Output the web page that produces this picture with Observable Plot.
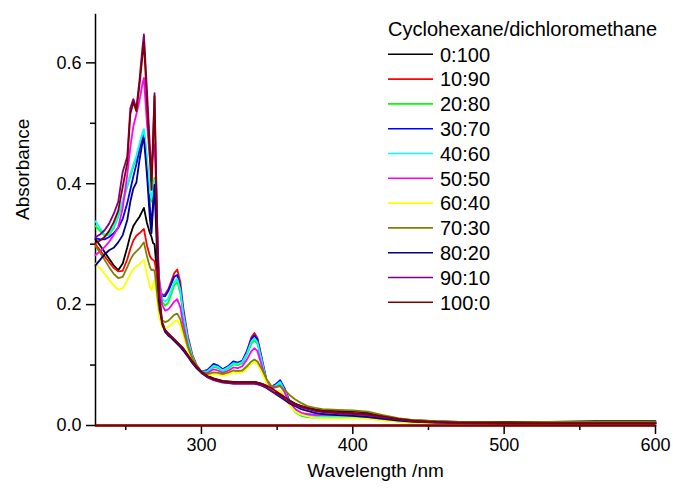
<!DOCTYPE html>
<html>
<head>
<meta charset="utf-8">
<script src="https://cdn.jsdelivr.net/npm/d3@7"></script>
<script src="https://cdn.jsdelivr.net/npm/@observablehq/plot@0.6"></script>
<style>
  html, body { margin: 0; padding: 0; background: #fff; }
  #chart { width: 673px; height: 493px; }
</style>
</head>
<body>
<div id="chart"></div>
<script>
// Wavelength grid (nm)
const wavelengths = [230,233,236,239,242,245,248,251,253,255,257,259,261,262,264,266,267,268,269,270,271,272,274,276,278,280,282,284,286,288,291,294,297,300,304,308,311,314,318,321,324,327,330,333,335,337,340,343,346,349,352,355,358,362,366,370,375,380,390,400,410,420,430,440,455,470,500,530,560,600];

// Series labels (cyclohexane:dichloromethane)
const seriesNames = ["0:100","10:90","20:80","30:70","40:60","50:50","60:40","70:30","80:20","90:10","100:0"];

// Absorbance values, one array per series
const abs_0_100 = [0.308,0.298,0.287,0.276,0.265,0.257,0.268,0.295,0.315,0.33,0.338,0.345,0.355,0.36,0.335,0.318,0.312,0.302,0.3,0.27,0.235,0.2,0.17,0.157,0.151,0.146,0.141,0.136,0.131,0.126,0.116,0.105,0.096,0.088,0.082,0.078,0.076,0.074,0.073,0.072,0.072,0.072,0.072,0.072,0.072,0.071,0.069,0.065,0.06,0.055,0.051,0.046,0.041,0.036,0.032,0.029,0.027,0.025,0.024,0.024,0.021,0.015,0.011,0.009,0.007,0.006,0.006,0.006,0.007,0.007];
const abs_10_90 = [0.3,0.29,0.28,0.27,0.261,0.255,0.256,0.275,0.292,0.306,0.314,0.318,0.323,0.325,0.298,0.28,0.276,0.274,0.272,0.258,0.24,0.226,0.216,0.217,0.225,0.238,0.252,0.258,0.238,0.195,0.148,0.117,0.099,0.089,0.091,0.101,0.098,0.092,0.098,0.105,0.103,0.107,0.123,0.146,0.153,0.145,0.11,0.075,0.064,0.067,0.073,0.06,0.041,0.026,0.02,0.018,0.017,0.017,0.017,0.016,0.014,0.011,0.008,0.006,0.005,0.004,0.004,0.004,0.004,0.004];
const abs_20_80 = [0.33,0.322,0.314,0.316,0.326,0.345,0.37,0.395,0.412,0.428,0.443,0.462,0.482,0.49,0.44,0.38,0.37,0.395,0.41,0.36,0.29,0.24,0.205,0.198,0.203,0.217,0.232,0.238,0.22,0.182,0.14,0.113,0.097,0.088,0.089,0.097,0.095,0.09,0.095,0.101,0.1,0.103,0.117,0.135,0.141,0.135,0.103,0.072,0.061,0.064,0.07,0.056,0.037,0.022,0.016,0.014,0.013,0.013,0.013,0.013,0.012,0.009,0.007,0.005,0.004,0.004,0.004,0.004,0.004,0.004];
const abs_30_70 = [0.31,0.308,0.308,0.312,0.318,0.327,0.342,0.368,0.39,0.412,0.432,0.455,0.474,0.48,0.43,0.36,0.33,0.365,0.4,0.35,0.28,0.236,0.214,0.214,0.222,0.234,0.246,0.249,0.229,0.187,0.143,0.114,0.098,0.089,0.092,0.102,0.099,0.093,0.099,0.106,0.104,0.107,0.122,0.143,0.149,0.142,0.108,0.074,0.064,0.068,0.075,0.061,0.041,0.025,0.018,0.016,0.015,0.015,0.015,0.014,0.013,0.01,0.007,0.005,0.004,0.004,0.004,0.004,0.004,0.004];
const abs_40_60 = [0.338,0.326,0.316,0.318,0.329,0.348,0.373,0.398,0.416,0.432,0.446,0.465,0.484,0.49,0.443,0.385,0.375,0.39,0.405,0.365,0.295,0.245,0.21,0.205,0.21,0.223,0.237,0.243,0.225,0.185,0.142,0.114,0.098,0.089,0.09,0.099,0.097,0.091,0.097,0.103,0.102,0.105,0.119,0.139,0.144,0.138,0.106,0.073,0.063,0.066,0.072,0.058,0.039,0.024,0.018,0.016,0.015,0.015,0.015,0.014,0.013,0.01,0.007,0.005,0.004,0.004,0.004,0.004,0.004,0.004];
const abs_50_50 = [0.282,0.288,0.295,0.304,0.315,0.328,0.36,0.415,0.46,0.495,0.515,0.537,0.565,0.575,0.5,0.44,0.43,0.45,0.465,0.4,0.31,0.245,0.2,0.19,0.192,0.198,0.205,0.209,0.196,0.167,0.132,0.11,0.097,0.088,0.087,0.093,0.091,0.087,0.091,0.096,0.095,0.098,0.109,0.123,0.128,0.123,0.098,0.072,0.062,0.063,0.066,0.055,0.039,0.027,0.021,0.019,0.018,0.018,0.018,0.018,0.016,0.012,0.009,0.006,0.005,0.004,0.004,0.004,0.004,0.004];
const abs_60_40 = [0.268,0.26,0.251,0.241,0.232,0.225,0.227,0.24,0.251,0.259,0.263,0.267,0.272,0.274,0.25,0.229,0.224,0.234,0.24,0.222,0.2,0.181,0.163,0.16,0.163,0.167,0.172,0.174,0.166,0.149,0.126,0.108,0.095,0.087,0.082,0.085,0.084,0.082,0.085,0.088,0.087,0.088,0.094,0.102,0.105,0.102,0.088,0.07,0.058,0.057,0.058,0.047,0.034,0.023,0.018,0.015,0.013,0.012,0.012,0.012,0.011,0.008,0.006,0.004,0.004,0.003,0.003,0.003,0.004,0.004];
const abs_70_30 = [0.297,0.286,0.274,0.262,0.251,0.244,0.246,0.262,0.274,0.283,0.288,0.293,0.3,0.303,0.28,0.262,0.257,0.258,0.256,0.236,0.212,0.192,0.174,0.171,0.173,0.178,0.183,0.185,0.176,0.157,0.13,0.111,0.098,0.089,0.085,0.088,0.087,0.085,0.088,0.091,0.09,0.091,0.098,0.106,0.109,0.106,0.093,0.077,0.066,0.064,0.065,0.059,0.051,0.043,0.037,0.032,0.029,0.027,0.026,0.025,0.023,0.017,0.012,0.009,0.007,0.006,0.005,0.006,0.006,0.006];
const abs_80_20 = [0.265,0.274,0.283,0.29,0.294,0.303,0.315,0.34,0.37,0.392,0.402,0.438,0.468,0.475,0.415,0.34,0.318,0.36,0.398,0.33,0.26,0.205,0.168,0.155,0.149,0.145,0.14,0.135,0.13,0.124,0.114,0.103,0.094,0.087,0.08,0.076,0.074,0.072,0.071,0.07,0.07,0.07,0.07,0.07,0.07,0.069,0.066,0.062,0.057,0.052,0.047,0.042,0.037,0.032,0.027,0.024,0.021,0.019,0.017,0.016,0.014,0.011,0.008,0.006,0.005,0.004,0.003,0.003,0.003,0.003];
const abs_90_10 = [0.312,0.316,0.323,0.334,0.35,0.37,0.42,0.445,0.525,0.54,0.525,0.57,0.625,0.647,0.555,0.46,0.405,0.475,0.55,0.42,0.3,0.22,0.172,0.157,0.151,0.147,0.142,0.137,0.132,0.127,0.116,0.105,0.096,0.088,0.08,0.075,0.073,0.071,0.07,0.069,0.069,0.069,0.069,0.069,0.069,0.068,0.066,0.063,0.058,0.053,0.049,0.044,0.039,0.034,0.03,0.027,0.024,0.022,0.02,0.019,0.017,0.013,0.01,0.007,0.005,0.004,0.004,0.004,0.004,0.004];
const abs_100_0 = [0.302,0.306,0.312,0.322,0.336,0.355,0.395,0.435,0.515,0.535,0.52,0.562,0.61,0.635,0.535,0.44,0.39,0.465,0.545,0.415,0.295,0.218,0.17,0.158,0.153,0.148,0.143,0.138,0.133,0.128,0.117,0.106,0.097,0.089,0.082,0.077,0.075,0.073,0.072,0.072,0.072,0.072,0.072,0.072,0.072,0.071,0.069,0.066,0.062,0.057,0.052,0.047,0.042,0.036,0.032,0.029,0.026,0.024,0.022,0.021,0.019,0.015,0.011,0.008,0.006,0.005,0.004,0.004,0.004,0.004];

const seriesValues = [abs_0_100, abs_10_90, abs_20_80, abs_30_70, abs_40_60, abs_50_50, abs_60_40, abs_70_30, abs_80_20, abs_90_10, abs_100_0];

// Tick values
const xMajorTicks = [300, 400, 500, 600];
const xMinorTicks = [250, 350, 450, 550];
const yMajorTicks = [0, 0.2, 0.4, 0.6];
const yMinorTicks = [0.1, 0.3, 0.5];
const baseline = [0];

// Style (kept apart from data)
const palette = ["#000000","#ff0000","#00ff00","#0000ff","#00ffff","#ff00ff","#ffff00","#808000","#000080","#800080","#800000"];
const legendTitle = "Cyclohexane/dichloromethane";

// Tidy table
const rows = [];
seriesNames.forEach((name, i) => {
  wavelengths.forEach((w, j) => rows.push({series: name, wl: w, a: seriesValues[i][j]}));
});

const font = "'Liberation Sans', Arial, Helvetica, sans-serif";

const plot = Plot.plot({
  width: 673,
  height: 493,
  marginLeft: 95,
  marginRight: 18,
  marginTop: 14,
  marginBottom: 68,
  style: {fontFamily: font, fontSize: "18px", color: "#000", background: "#fff", overflow: "visible"},
  x: {domain: [230, 600]},
  y: {domain: [0, 0.68]},
  color: {domain: seriesNames, range: palette},
  marks: [
    Plot.axisY({ticks: yMajorTicks, tickSize: 9, tickPadding: 5, tickFormat: d3.format(".1f"), strokeWidth: 1.5, label: null, fontSize: 18}),
    Plot.axisY({ticks: yMinorTicks, tickSize: 5, tickFormat: () => "", strokeWidth: 1.5, label: null}),
    Plot.axisX({ticks: xMajorTicks, tickSize: 9, tickPadding: 4, tickFormat: d3.format("d"), strokeWidth: 1.5, label: null, fontSize: 18}),
    Plot.axisX({ticks: xMinorTicks, tickSize: 5, tickFormat: () => "", strokeWidth: 1.5, label: null}),
    Plot.frame({anchor: "left", strokeWidth: 1.5}),
    Plot.frame({anchor: "bottom", strokeWidth: 1.5}),
    Plot.line(rows, {x: "wl", y: "a", z: "series", stroke: "series", strokeWidth: 1.8, curve: "linear"}),
    Plot.ruleY(baseline, {stroke: "#800000", strokeWidth: 2.5}),
    Plot.text(["Absorbance"], {frameAnchor: "left", rotate: -90, dx: -73, fontSize: 19}),
    Plot.text(["Wavelength /nm"], {frameAnchor: "bottom", dy: 51, fontSize: 19})
  ]
});

document.getElementById("chart").appendChild(plot);

// Legend drawn inside the plot area (top right)
const svg = d3.select(plot);
const lg = svg.append("g").attr("font-family", font).attr("fill", "#000").attr("text-anchor", "start");
const lx = 388, ly = 36, rowH = 24.8, firstRow = 54.3;
lg.append("text").attr("x", lx).attr("y", ly).attr("font-size", 20).attr("text-anchor", "start").text(legendTitle);
seriesNames.forEach((name, i) => {
  const cy = firstRow + i * rowH;
  lg.append("line").attr("x1", lx).attr("x2", lx + 45).attr("y1", cy).attr("y2", cy)
    .attr("stroke", palette[i]).attr("stroke-width", 1.6);
  lg.append("text").attr("x", lx + 52).attr("y", cy).attr("dy", "0.36em").attr("font-size", 20)
    .attr("text-anchor", "start").text(name);
});
</script>
</body>
</html>
